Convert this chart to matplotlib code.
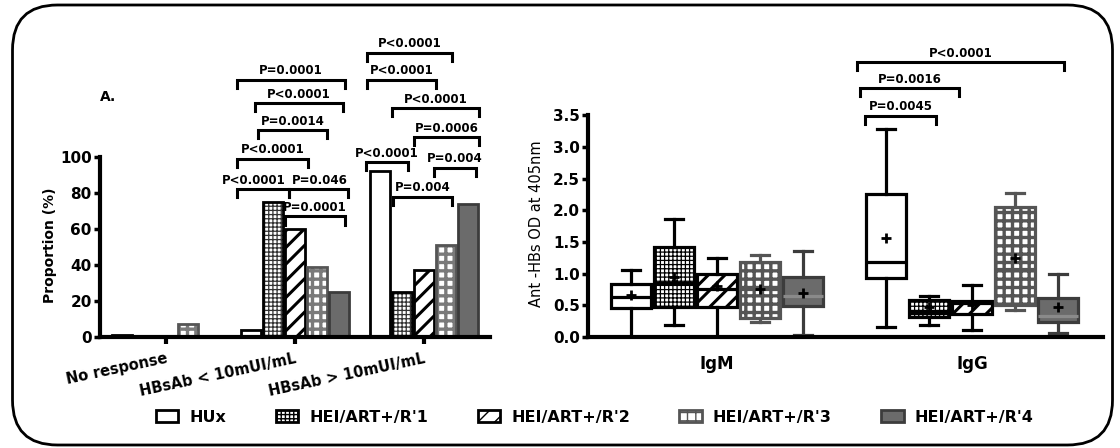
import matplotlib
matplotlib.use("Agg")
import matplotlib.pyplot as plt
from matplotlib.patches import Patch, FancyBboxPatch

plt.rcParams['font.family'] = ['DejaVu Sans']
plt.rcParams['font.weight'] = 'bold'

groups = ['HUx', "HEI/ART+/R'1", "HEI/ART+/R'2", "HEI/ART+/R'3", "HEI/ART+/R'4"]
categories = ['No response', 'HBsAb < 10mUI/mL', 'HBsAb > 10mUI/mL']

# proportions (%) per group, one value per category
prop_hux = [1, 4, 92]
prop_r1 = [0, 75, 25]
prop_r2 = [0, 60, 37]
prop_r3 = [7, 39, 51]
prop_r4 = [0, 25, 74]
proportions = [prop_hux, prop_r1, prop_r2, prop_r3, prop_r4]

# left panel p-values: (x start, x end, height, label, label x or None for middle)
left_pvals = [
    (0.55, 0.95, 82, 'P<0.0001', 0.68),
    (0.95, 1.41, 82, 'P=0.046', 1.19),
    (0.92, 1.39, 67, 'P=0.0001', None),
    (0.55, 1.10, 99, 'P<0.0001', None),
    (0.71, 1.25, 115, 'P=0.0014', None),
    (0.69, 1.37, 130, 'P<0.0001', None),
    (0.55, 1.39, 143, 'P=0.0001', None),
    (1.55, 1.88, 97, 'P<0.0001', None),
    (1.76, 2.22, 78, 'P=0.004', None),
    (2.08, 2.40, 94, 'P=0.004', None),
    (1.92, 2.43, 111, 'P=0.0006', None),
    (1.75, 2.43, 127, 'P<0.0001', None),
    (1.56, 2.09, 143, 'P<0.0001', None),
    (1.56, 2.22, 158, 'P<0.0001', None),
]

# right panel: OD at 405nm box statistics [IgM, IgG] x 5 groups
isotypes = ['IgM', 'IgG']
od_whislo = [[0.00, 0.19, 0.00, 0.23, 0.03], [0.15, 0.19, 0.11, 0.43, 0.06]]
od_q1 = [[0.46, 0.48, 0.48, 0.30, 0.49], [0.93, 0.32, 0.36, 0.50, 0.24]]
od_med = [[0.63, 0.85, 0.75, 0.75, 0.64], [1.18, 0.40, 0.53, 1.07, 0.33]]
od_q3 = [[0.83, 1.42, 1.00, 1.18, 0.95], [2.25, 0.58, 0.57, 2.05, 0.62]]
od_whishi = [[1.06, 1.87, 1.24, 1.30, 1.36], [3.28, 0.65, 0.82, 2.28, 0.99]]
od_mean = [[0.66, 0.95, 0.80, 0.75, 0.69], [1.56, 0.47, 0.50, 1.25, 0.48]]

right_pvals = [
    (0.58, 0.86, 3.49, 'P=0.0045', None),
    (0.56, 0.95, 3.93, 'P=0.0016', None),
    (0.55, 1.36, 4.34, 'P<0.0001', None),
]

face = ['white', 'white', 'white', 'white', '#6b6b6b']
hatch = [None, '++++', '//', '++', None]
hatch_col = ['black', '#333333', 'black', '#7a7a7a', '#6b6b6b']
hatch_lw = [1.0, 0.9, 2.2, 2.4, 1.0]
edge = ['black', 'black', 'black', '#555555', '#3c3c3c']


def set_hatch_style(k):
    plt.rcParams['hatch.color'] = hatch_col[k]
    plt.rcParams['hatch.linewidth'] = hatch_lw[k]


fig = plt.figure(figsize=(11.2, 4.48), dpi=100)

# rounded frame around the whole figure
frame = FancyBboxPatch((0.125, 0.03), 11.0, 4.4, boxstyle='round,pad=0,rounding_size=0.45',
                       transform=fig.dpi_scale_trans, fill=False, lw=2.0, ec='black')
fig.patches.append(frame)

ax1 = fig.add_axes([100 / 1120, 1 - 337 / 448, 390 / 1120, 306 / 448])
ax2 = fig.add_axes([588 / 1120, 1 - 337 / 448, 515 / 1120, 306 / 448])


def bracket(ax, x1, x2, y, d, label, lx=None, fs=8.5):
    ax.plot([x1, x1, x2, x2], [y - d, y, y, y - d], color='black', lw=2.2, clip_on=False,
            solid_joinstyle='miter')
    if lx is None:
        lx = (x1 + x2) / 2
    ax.text(lx, y + d * 0.3, label, ha='center', va='bottom', fontsize=fs, fontweight='bold')


# ---- left panel: bars
step1, width1 = 0.17, 0.152
for k in range(5):
    xs = [g + (k - 2) * step1 for g in range(3)]
    set_hatch_style(k)
    ax1.bar(xs, proportions[k], width=width1, color=face[k], hatch=hatch[k],
            edgecolor=hatch_col[k], linewidth=0)
    ax1.bar(xs, proportions[k], width=width1, color='none', edgecolor=edge[k], linewidth=2.0)

for x1, x2, y, lab, lx in left_pvals:
    bracket(ax1, x1, x2, y, 4.5, lab, lx)

ax1.set_xlim(-0.512, 2.512)
ax1.set_ylim(0, 170)
ax1.spines[['top', 'right']].set_visible(False)
ax1.spines['left'].set_bounds(0, 100)
for s in ['left', 'bottom']:
    ax1.spines[s].set_linewidth(3)
ax1.set_yticks([0, 20, 40, 60, 80, 100])
ax1.set_xticks(range(3))
ax1.set_xticklabels(categories, rotation=12, ha='right', va='top', rotation_mode='anchor',
                    fontsize=10.5)
ax1.tick_params(axis='y', width=2.5, length=4, labelsize=11, pad=2)
ax1.tick_params(axis='x', width=3, length=5, pad=5)
ax1.set_ylabel('Proportion (%)', fontsize=10, fontweight='bold', y=0.3, labelpad=2)
ax1.text(0.0, 0.784, 'A.', transform=ax1.transAxes, fontsize=10, fontweight='bold',
         va='center')

# ---- right panel: boxes
step2, width2 = 0.169, 0.158
for k in range(5):
    stats = []
    for g in range(2):
        stats.append(dict(med=od_med[g][k], q1=od_q1[g][k], q3=od_q3[g][k],
                          whislo=od_whislo[g][k], whishi=od_whishi[g][k], mean=od_mean[g][k]))
    pos = [g + (k - 2) * step2 for g in range(2)]
    set_hatch_style(k)
    line_c = 'black' if k < 3 else edge[k]
    med_c = '#8a8a8a' if k == 4 else line_c
    bp = ax2.bxp(stats, positions=pos, widths=width2, patch_artist=True, showmeans=True,
                 showfliers=False,
                 boxprops=dict(facecolor=face[k], edgecolor=line_c, linewidth=2.3),
                 whiskerprops=dict(color=line_c, linewidth=2.3),
                 capprops=dict(color=line_c, linewidth=2.3),
                 medianprops=dict(color=med_c, linewidth=2.3),
                 meanprops=dict(marker='+', markeredgecolor='black', markersize=7,
                                markeredgewidth=2),
                 capwidths=width2 * 0.45)
    for b in bp['boxes']:
        if hatch[k]:
            b.set_hatch(hatch[k])

for x1, x2, y, lab, lx in right_pvals:
    bracket(ax2, x1, x2, y, 0.13, lab, lx)

ax2.set_xlim(-0.506, 1.514)
ax2.set_ylim(0, 4.83)
ax2.spines[['top', 'right']].set_visible(False)
ax2.spines['left'].set_bounds(0, 3.5)
for s in ['left', 'bottom']:
    ax2.spines[s].set_linewidth(3)
ax2.set_yticks([0, 0.5, 1.0, 1.5, 2.0, 2.5, 3.0, 3.5])
ax2.set_yticklabels(['0.0', '0.5', '1.0', '1.5', '2.0', '2.5', '3.0', '3.5'])
ax2.set_xticks(range(2))
ax2.set_xticklabels(isotypes, fontsize=12)
ax2.tick_params(axis='y', width=2.5, length=4, labelsize=11, pad=2)
ax2.tick_params(axis='x', length=0, pad=13)
ax2.set_ylabel('Ant -HBs OD at 405nm', fontsize=10.5, fontweight='normal', y=0.37, labelpad=6)

# ---- legend
handles = []
for k in range(5):
    set_hatch_style(k)
    handles.append(Patch(facecolor=face[k], edgecolor=edge[k] if k else 'black',
                         hatch=hatch[k], linewidth=2))
fig.legend(handles, groups, loc='center', bbox_to_anchor=(0.531, 0.069), ncol=5,
           frameon=False, fontsize=11.5, handlelength=1.4, handleheight=0.75,
           columnspacing=3.1, handletextpad=0.7)

fig.savefig('out.png', dpi=100)
